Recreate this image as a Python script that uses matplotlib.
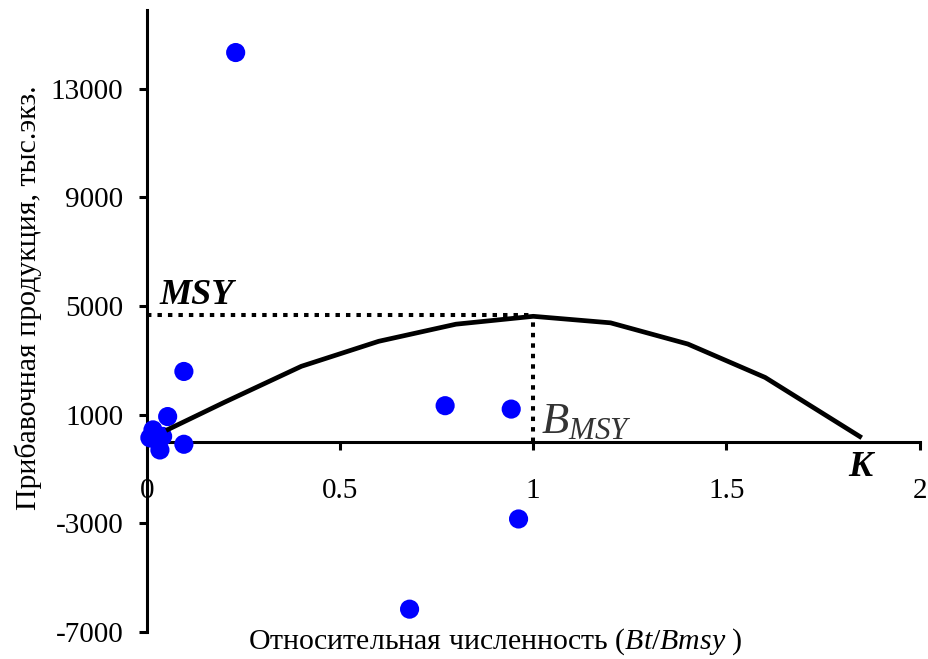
import matplotlib
matplotlib.use('Agg')
import matplotlib.pyplot as plt

# observed surplus production vs relative abundance
obs_ratio = [0.23, 0.096, 0.054, 0.016, 0.012, 0.034, 0.041, 0.096, 0.008, 0.772, 0.943, 0.962, 0.68]
obs_prod = [14330, 2590, 930, 440, 140, -300, 200, -90, 150, 1330, 1205, -2840, -6160]

# fitted production curve
model_ratio = [0.05, 0.2, 0.4, 0.6, 0.8, 1.0, 1.2, 1.4, 1.6, 1.85]
model_prod = [420, 1450, 2780, 3700, 4330, 4620, 4380, 3600, 2370, 150]

MSY = 4650
B_MSY = 1.0
K = 1.85

x_ticks = [0, 0.5, 1, 1.5, 2]
x_tick_labels = ['0', '0.5', '1', '1.5', '2']
y_ticks = [-7000, -3000, 1000, 5000, 9000, 13000]
y_tick_labels = ['-7000', '-3000', '1000', '5000', '9000', '13000']

plt.rcParams['font.family'] = ['Liberation Serif', 'DejaVu Serif']
plt.rcParams['mathtext.fontset'] = 'custom'
plt.rcParams['mathtext.rm'] = 'Liberation Serif'
plt.rcParams['mathtext.it'] = 'Liberation Serif:italic'


def main():
    fig = plt.figure(figsize=(9.29, 6.59), dpi=100)
    ax = fig.add_axes([0.158, 0.041, 0.832, 0.944])

    ax.set_xlim(0, 2)
    ax.set_ylim(-7000, 15900)

    # axes cross at zero
    for side in ['top', 'right']:
        ax.spines[side].set_visible(False)
    ax.spines['bottom'].set_position(('data', 0))
    ax.spines['left'].set_linewidth(2.2)
    ax.spines['bottom'].set_linewidth(2.2)

    ax.set_xticks(x_ticks)
    ax.set_xticklabels(x_tick_labels)
    ax.set_yticks(y_ticks)
    ax.set_yticklabels(y_tick_labels)
    ax.tick_params(axis='x', direction='out', length=6, width=2.2, pad=20, labelsize=21)
    ax.tick_params(axis='y', direction='out', length=6, width=2.2, pad=11, labelsize=21)

    # reference lines for MSY and B_MSY
    dots = (0, (1.1, 1.5))
    ax.plot([0, B_MSY], [MSY, MSY], color='black', lw=2.9, linestyle=dots, zorder=2)
    ax.plot([B_MSY, B_MSY], [0, MSY], color='black', lw=2.9, linestyle=dots, zorder=2)

    ax.scatter(obs_ratio, obs_prod, s=190, color='#0000ff', edgecolors='none',
               zorder=3, clip_on=False)
    ax.plot(model_ratio, model_prod, color='black', lw=3.4, zorder=4,
            solid_capstyle='butt')

    ax.text(0.033, MSY + 420, 'MSY', fontsize=26, fontweight='bold',
            fontstyle='italic', ha='left', va='baseline')
    ax.text(1.02, 330, r'$B_{MSY}$', fontsize=32, color='#333333',
            ha='left', va='baseline')
    ax.text(K - 0.035, -1250, 'K', fontsize=26, fontweight='bold',
            fontstyle='italic', ha='left', va='baseline')

    fig.text(0.533, 0.027, 'Относительная численность ($Bt/Bmsy$ )',
             fontsize=21.5, ha='center', va='center')
    fig.text(0.030, 0.548, 'Прибавочная продукция, тыс.экз.',
             fontsize=21.5, rotation=90, ha='center', va='center')

    fig.savefig('out.png', dpi=100, facecolor='white')


main()
